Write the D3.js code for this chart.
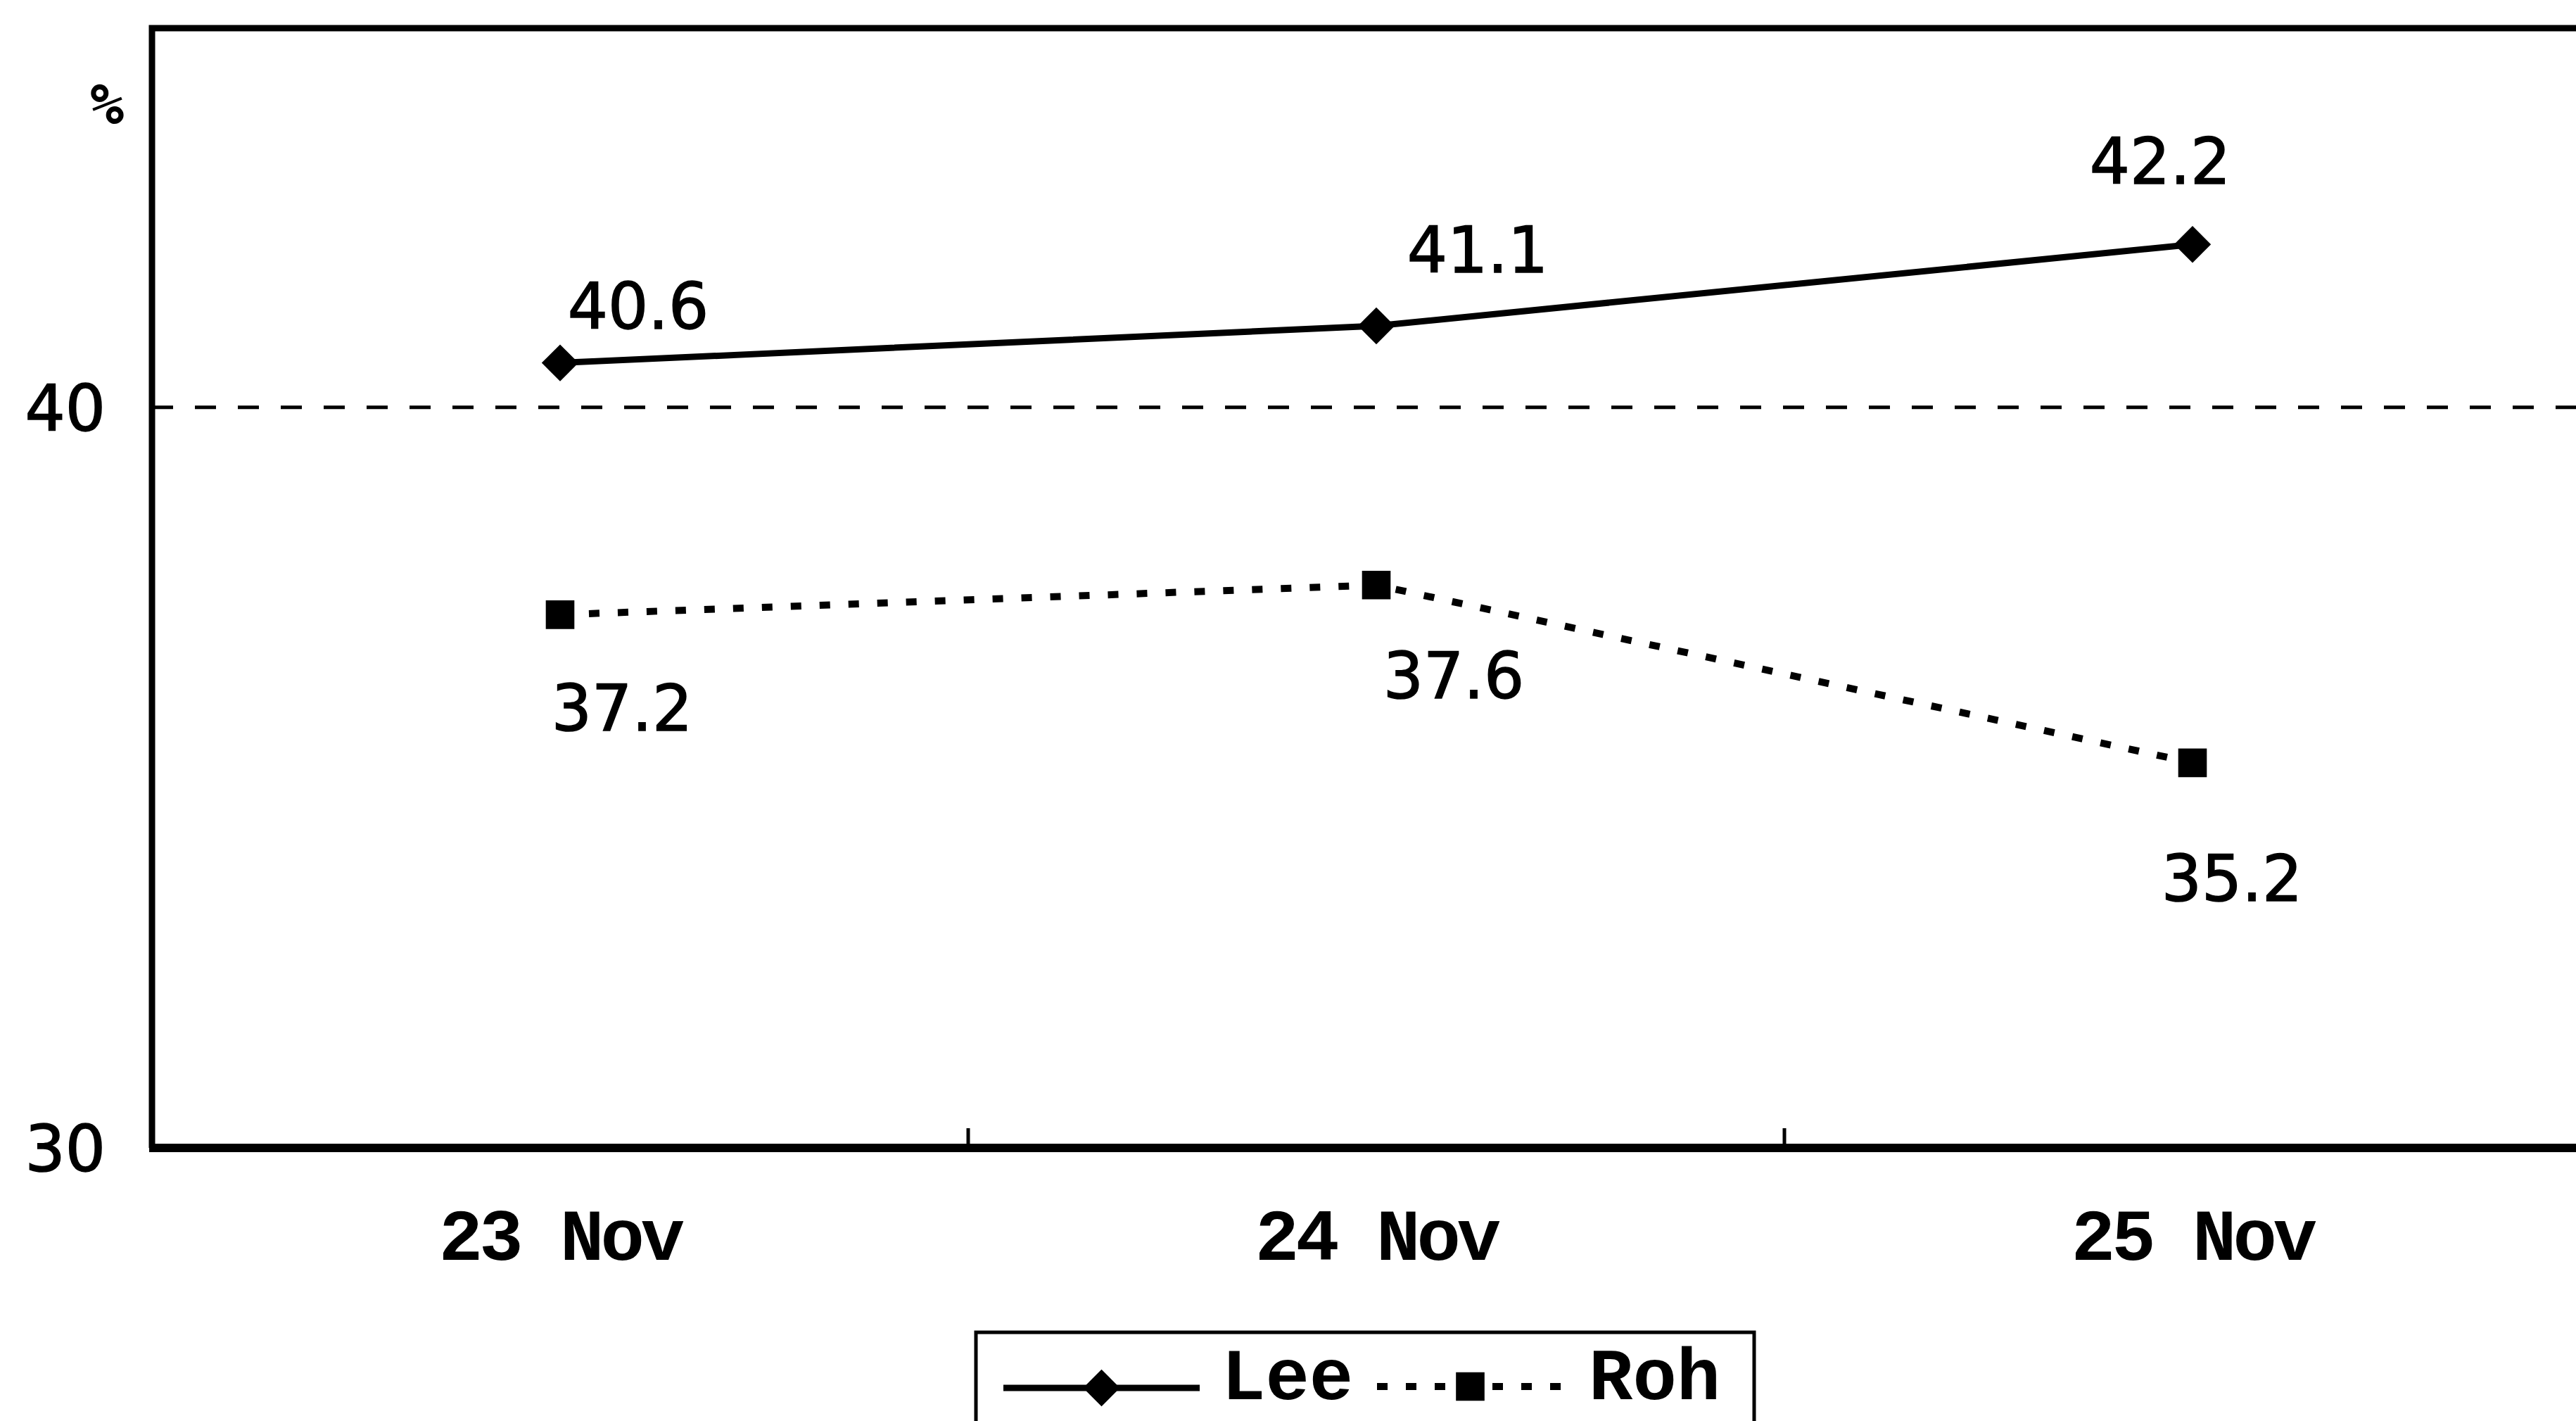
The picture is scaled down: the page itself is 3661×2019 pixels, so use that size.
<!DOCTYPE html>
<html>
<head>
<meta charset="utf-8">
<script src="https://cdn.jsdelivr.net/npm/d3@7"></script>
<style>
  body { margin: 0; background: #fff; }
  svg { display: block; }
</style>
</head>
<body>
<svg width="3661" height="2019"></svg>
<script>
// Data
var days = ["23 Nov", "24 Nov", "25 Nov"];
var leeValues = [40.6, 41.1, 42.2];
var rohValues = [37.2, 37.6, 35.2];
var yTicks = [30, 40];
var refValue = 40;

var svg = d3.select("svg"),
    plotLeft = 216, plotTop = 40, plotBottom = 1631,
    bandWidth = 1160;

var x = d3.scaleBand()
    .domain(days)
    .range([plotLeft, plotLeft + bandWidth * days.length])
    .padding(0);
var y = d3.scaleLinear()
    .domain([30, 45.12])
    .range([plotBottom, plotTop]);

var cx = function(d, i) { return x(days[i]) + x.bandwidth() / 2; };

var series = [
  {name: "Lee", values: leeValues, dash: null, width: 9, marker: d3.symbolDiamond2, size: 1750},
  {name: "Roh", values: rohValues, dash: "15,26", width: 10, marker: d3.symbolSquare2, size: 2100}
];

// hand placed label offsets from each marker (text baseline, centred)
var labelNudge = {
  "Lee": [[111, -49], [144, -76], [-46, -86]],
  "Roh": [[88, 165], [110, 161], [56, 196]]
};

// dashed reference line at 40
svg.append("line")
    .attr("x1", plotLeft).attr("x2", 3661)
    .attr("y1", y(refValue)).attr("y2", y(refValue))
    .attr("stroke", "#000")
    .attr("stroke-width", 5)
    .attr("stroke-dasharray", "30,31");

// frame: left, top, bottom
svg.append("path")
    .attr("d", "M3661," + plotTop + "H" + plotLeft + "V" + plotBottom)
    .attr("fill", "none")
    .attr("stroke", "#000")
    .attr("stroke-width", 9);
svg.append("line")
    .attr("x1", plotLeft - 4).attr("x2", 3661)
    .attr("y1", plotBottom).attr("y2", plotBottom)
    .attr("stroke", "#000")
    .attr("stroke-width", 12);

// inner ticks between categories
svg.selectAll(".btick")
  .data(days.slice(1))
  .enter().append("line")
    .attr("x1", function(d) { return x(d); })
    .attr("x2", function(d) { return x(d); })
    .attr("y1", plotBottom).attr("y2", plotBottom - 28)
    .attr("stroke", "#000")
    .attr("stroke-width", 5);

// axes (labels only, lines drawn above)
var yAxis = svg.append("g")
    .attr("transform", "translate(" + plotLeft + ",0)")
    .call(d3.axisLeft(y).tickValues(yTicks).tickSize(0).tickPadding(66).tickFormat(d3.format("d")));
yAxis.select(".domain").remove();
yAxis.selectAll("text")
    .attr("font-family", "DejaVu Sans")
    .attr("font-size", 90)
    .attr("fill", "#000")
    .attr("stroke", "#000")
    .attr("stroke-width", 1.5)
    .attr("dy", "0.36em");

var xAxis = svg.append("g")
    .attr("transform", "translate(0," + plotBottom + ")")
    .call(d3.axisBottom(x).tickSize(0));
xAxis.select(".domain").remove();
xAxis.selectAll("text")
    .attr("font-family", "Liberation Mono")
    .attr("font-weight", "bold")
    .attr("font-size", 104)
    .attr("letter-spacing", -5)
    .attr("fill", "#000")
    .attr("y", 159)
    .attr("dy", 0);

// "%" unit label
svg.append("text")
    .attr("x", 152).attr("y", 176)
    .attr("text-anchor", "middle")
    .attr("font-family", "DejaVu Sans Mono")
    .attr("font-weight", "bold")
    .attr("font-size", 80)
    .text("%");

var line = d3.line()
    .x(function(d, i) { return cx(d, i); })
    .y(function(d) { return y(d); });

series.forEach(function(s) {
  svg.append("path")
      .datum(s.values)
      .attr("d", line)
      .attr("fill", "none")
      .attr("stroke", "#000")
      .attr("stroke-width", s.width)
      .attr("stroke-dasharray", s.dash);

  svg.selectAll(".m-" + s.name)
    .data(s.values)
    .enter().append("path")
      .attr("class", "m-" + s.name)
      .attr("transform", function(d, i) { return "translate(" + cx(d, i) + "," + y(d) + ")"; })
      .attr("d", d3.symbol().type(s.marker).size(s.size))
      .attr("fill", "#000");

  svg.selectAll(".l-" + s.name)
    .data(s.values)
    .enter().append("text")
      .attr("class", "l-" + s.name)
      .attr("x", function(d, i) { return cx(d, i) + labelNudge[s.name][i][0]; })
      .attr("y", function(d, i) { return y(d) + labelNudge[s.name][i][1]; })
      .attr("text-anchor", "middle")
      .attr("font-family", "DejaVu Sans")
      .attr("font-size", 90)
      .attr("stroke", "#000")
      .attr("stroke-width", 1.5)
      .text(function(d) { return d.toFixed(1); });
});

// legend box, runs off the bottom edge
var legend = svg.append("g");
legend.append("rect")
    .attr("x", 1387).attr("y", 1893)
    .attr("width", 1106).attr("height", 200)
    .attr("fill", "#fff")
    .attr("stroke", "#000")
    .attr("stroke-width", 5);

var legendItems = [
  {s: series[0], x0: 1426, x1: 1705, ly: 1972, tx: 1736},
  {s: series[1], x0: 1957, x1: 2222, ly: 1970, tx: 2258}
];
legendItems.forEach(function(it) {
  legend.append("line")
      .attr("x1", it.x0).attr("x2", it.x1)
      .attr("y1", it.ly).attr("y2", it.ly)
      .attr("stroke", "#000")
      .attr("stroke-width", it.s.width)
      .attr("stroke-dasharray", it.s.dash);
  legend.append("path")
      .attr("transform", "translate(" + ((it.x0 + it.x1) / 2) + "," + it.ly + ")")
      .attr("d", d3.symbol().type(it.s.marker).size(it.s.size))
      .attr("fill", "#000");
  legend.append("text")
      .attr("x", it.tx).attr("y", 1988)
      .attr("font-family", "Liberation Mono")
      .attr("font-weight", "bold")
      .attr("font-size", 104)
      .text(it.s.name);
});
</script>
</body>
</html>
